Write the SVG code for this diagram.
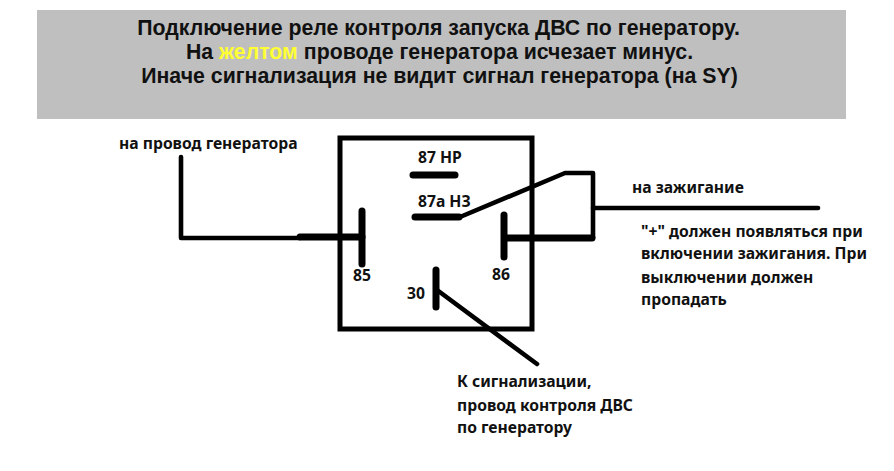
<svg xmlns="http://www.w3.org/2000/svg" width="894" height="471" viewBox="0 0 894 471">
<style>
text{fill:#111}
.h{font-family:"Liberation Sans",Arial,sans-serif;font-size:21.300px;font-weight:bold;text-anchor:middle}
.l{font-family:"Noto Sans","DejaVu Sans",sans-serif;font-size:15.700px;font-weight:bold}
.w{fill:none;stroke:#000;stroke-width:4.600;stroke-linecap:round;stroke-linejoin:round}
.t{fill:none;stroke:#000;stroke-width:7;stroke-linecap:round}
</style>
<rect width="894" height="471" fill="#fff"/>
<g id="banner"><rect x="37" y="10" width="809" height="109" fill="#bfbfbf"/>
<text class="h" x="438.500" y="35">Подключение реле контроля запуска ДВС по генератору.</text>
<text class="h" x="439.500" y="59">На <tspan fill="#ffff33">желтом</tspan> проводе генератора исчезает минус.</text>
<text class="h" x="439.500" y="83">Иначе сигнализация не видит сигнал генератора (на SY)</text></g>
<g id="relay"><rect x="340" y="138" width="192" height="191" fill="none" stroke="#000" stroke-width="5"/></g>
<g id="connectors">
<path class="w" d="M181 157V238H300"/>
<path class="t" d="M300 237H362"/>
<path class="w" d="M460 217L565 173H593V238"/>
<path class="t" d="M505 238H592"/>
<path class="w" d="M593 208H818"/>
<path class="w" d="M437 290L537 364"/>
</g>
<g id="pin-87"><path class="t" d="M413 175H455"/><text class="l" x="418" y="163">87 НР</text></g>
<g id="pin-87a"><path class="t" d="M415 217H459"/><text class="l" x="418" y="207">87а НЗ</text></g>
<g id="pin-85"><path class="t" d="M362 211V264"/><text class="l" x="353" y="281">85</text></g>
<g id="pin-86"><path class="t" d="M504 215V257"/><text class="l" x="492" y="280">86</text></g>
<g id="pin-30"><path class="t" d="M436 270V307"/><text class="l" x="407" y="299">30</text></g>
<g id="label-gen"><text class="l" x="119" y="149">на провод генератора</text></g>
<g id="label-ign"><text class="l" x="632" y="193">на зажигание</text></g>
<g id="label-plus"><text class="l" x="641" y="237">"+" должен появляться при</text><text class="l" x="641" y="259">включении зажигания. При</text><text class="l" x="641" y="283">выключении должен</text><text class="l" x="641" y="305">пропадать</text></g>
<g id="label-alarm"><text class="l" x="457" y="387">К сигнализации,</text><text class="l" x="457" y="411">провод контроля ДВС</text><text class="l" x="457" y="433">по генератору</text></g>
</svg>
